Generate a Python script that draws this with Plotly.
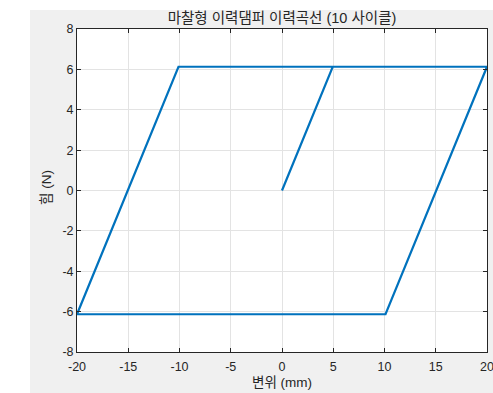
import plotly.graph_objects as go

# Hysteresis path vertices (displacement mm, force N)
disp = [0, 4.95, 20, 10.1, -20, -10.1, 20, 10.1, -20, -10.1, 20]
force = [0, 6.13, 6.13, -6.13, -6.13, 6.13, 6.13, -6.13, -6.13, 6.13, 6.13]

x_ticks = [-20, -15, -10, -5, 0, 5, 10, 15, 20]
x_labels = ["-20", "-15", "-10", "-5", "0", "5", "10", "15", "20"]
y_ticks = [-8, -6, -4, -2, 0, 2, 4, 6, 8]
y_labels = ["-8", "-6", "-4", "-2", "0", "2", "4", "6", "8"]

title = "마찰형 이력댐퍼 이력곡선 (10 사이클)"
xlabel = "변위 (mm)"
ylabel = "힘 (N)"

W, H = 493, 393
L, R, T, B = 77, 6, 29, 41
pw, ph = W - L - R, H - T - B

FONT = "Liberation Sans, Noto Sans CJK KR, sans-serif"
TXT = "#262626"

fig = go.Figure()
fig.add_trace(go.Scatter(x=disp, y=force, mode="lines",
                         line=dict(color="#0072BD", width=2.2),
                         showlegend=False, hoverinfo="skip"))

axis_common = dict(showgrid=True, gridcolor="#e3e3e3", gridwidth=1,
                   showline=True, linecolor=TXT, linewidth=1, mirror="ticks",
                   ticks="inside", ticklen=4, tickcolor=TXT, zeroline=False,
                   ticklabeloverflow="allow", automargin=False,
                   tickfont=dict(family=FONT, size=12.5, color=TXT))

fig.update_layout(
    width=W, height=H,
    margin=dict(l=L, r=R, t=T, b=B, pad=0),
    paper_bgcolor="#f0f0f0", plot_bgcolor="white",
    title=dict(text=title, x=(L + pw / 2) / W, xanchor="center",
               y=1 - 18 / H, yanchor="middle",
               font=dict(family=FONT, size=14.5, color=TXT)),
    xaxis=dict(range=[-20, 20], tickvals=x_ticks, ticktext=x_labels,
               ticklabelstandoff=3, **axis_common),
    yaxis=dict(range=[-8, 8], tickvals=y_ticks, ticktext=y_labels,
               **axis_common),
)

# axis titles
fig.add_annotation(text=xlabel, xref="paper", yref="paper", x=0.5,
                   y=(H - B - 382) / ph, xanchor="center", yanchor="middle",
                   showarrow=False, font=dict(family=FONT, size=13.5, color=TXT))
fig.add_annotation(text=ylabel, xref="paper", yref="paper", x=(46 - L) / pw,
                   y=(H - B - 188) / ph, xanchor="center", yanchor="middle",
                   textangle=-90, showarrow=False,
                   font=dict(family=FONT, size=13.5, color=TXT))

# white strips outside the gray figure area (left and top)
fig.add_shape(type="rect", xref="paper", yref="paper", layer="below",
              x0=-L / pw - 0.01, x1=(30 - L) / pw, y0=-B / ph - 0.01, y1=(H - B) / ph + 0.01,
              fillcolor="white", line=dict(width=0))
fig.add_shape(type="rect", xref="paper", yref="paper", layer="below",
              x0=-L / pw - 0.01, x1=(W - L) / pw + 0.01, y0=(H - B - 10) / ph, y1=(H - B) / ph + 0.01,
              fillcolor="white", line=dict(width=0))

fig.write_html("out.html",
               config={"displayModeBar": False},
               post_script="document.body.style.margin='0';document.body.style.overflow='hidden';")
